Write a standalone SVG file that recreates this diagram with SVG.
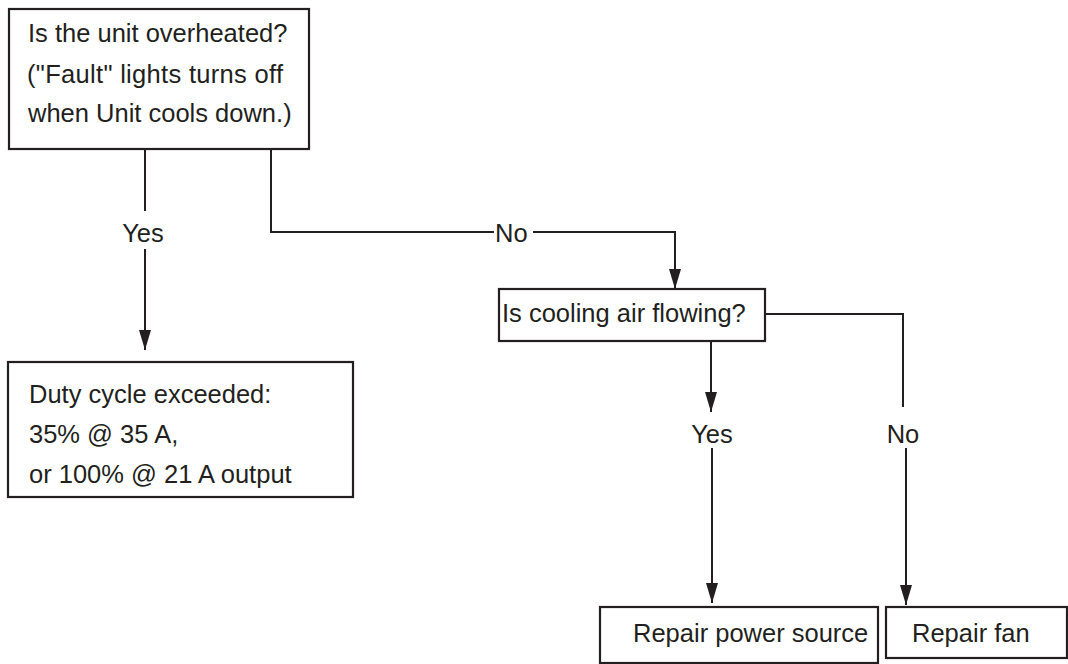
<svg xmlns="http://www.w3.org/2000/svg" width="1068" height="664" viewBox="0 0 1068 664">
<style>
.box{fill:#fff;stroke:#231f20;stroke-width:2.2}
.t{font-family:"Liberation Sans",Arial,sans-serif;font-size:25.5px;fill:#231f20}
.c{text-anchor:middle}
.ln{fill:none;stroke:#231f20;stroke-width:2}
</style>
<defs>
<marker id="ah" viewBox="0 0 20 12" refX="20" refY="6" markerWidth="20" markerHeight="12" markerUnits="userSpaceOnUse" orient="auto">
<path d="M0,0 L20,6 L0,12 z" fill="#231f20"/>
</marker>
</defs>
<rect width="1068" height="664" fill="#fff"/>
<g id="connectors">
<line class="ln" x1="145" y1="149" x2="145" y2="211"/>
<line class="ln" x1="145" y1="249" x2="145" y2="350" marker-end="url(#ah)"/>
<polyline class="ln" points="271,149 271,232 494,232"/>
<polyline class="ln" points="533,232 675,232 675,289" marker-end="url(#ah)"/>
<line class="ln" x1="711" y1="341" x2="711" y2="412" marker-end="url(#ah)"/>
<line class="ln" x1="712" y1="448" x2="712" y2="603" marker-end="url(#ah)"/>
<polyline class="ln" points="765,314 903,314 903,407"/>
<line class="ln" x1="906" y1="448" x2="906" y2="605" marker-end="url(#ah)"/>
<text class="t c" x="143" y="242">Yes</text>
<text class="t" x="495" y="242">No</text>
<text class="t c" x="712" y="443">Yes</text>
<text class="t c" x="903" y="443">No</text>
</g>
<g id="n1">
<rect class="box" x="9" y="9" width="300" height="140"/>
<text class="t" x="28" y="42">Is the unit overheated?</text>
<text class="t" x="27" y="83" textLength="256" lengthAdjust="spacing">("Fault" lights turns off</text>
<text class="t" x="28" y="122">when Unit cools down.)</text>
</g>
<g id="n2">
<rect class="box" x="8" y="362" width="345" height="135"/>
<text class="t" x="29" y="403">Duty cycle exceeded:</text>
<text class="t" x="29" y="443">35% @ 35 A,</text>
<text class="t" x="29" y="483">or 100% @ 21 A output</text>
</g>
<g id="n3">
<rect class="box" x="499" y="289" width="266" height="52"/>
<text class="t" x="502" y="322">Is cooling air flowing?</text>
</g>
<g id="n4">
<rect class="box" x="600" y="607" width="278" height="56"/>
<text class="t" x="633" y="642">Repair power source</text>
</g>
<g id="n5">
<rect class="box" x="886" y="607" width="181" height="51"/>
<text class="t" x="912" y="642">Repair fan</text>
</g>
</svg>
